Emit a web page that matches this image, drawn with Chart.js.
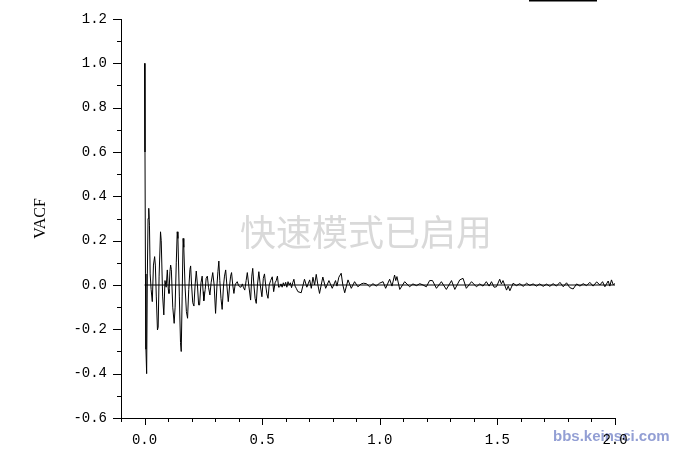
<!DOCTYPE html>
<html>
<head>
<meta charset="utf-8">
<script src="https://cdn.jsdelivr.net/npm/chart.js@4"></script>
<style>
html,body{margin:0;padding:0;background:#fff;}
#wrap{width:685px;height:451px;position:relative;}
canvas{display:block;}
</style>
</head>
<body>
<div id="wrap"><canvas id="c" width="685" height="451"></canvas></div>
<script>
// ---- data (time, VACF) ----
const timeValues = [
 0.000,0.002,0.004,0.006,0.009,0.012,0.015,0.018,0.021,0.024,0.028,0.033,0.038,0.043,0.046,0.050,
 0.055,0.058,0.062,0.068,0.071,0.077,0.082,0.087,0.092,0.097,0.101,0.104,0.108,0.111,0.114,0.120,
 0.126,0.130,0.135,0.139,0.142,0.148,0.153,0.156,0.160,0.164,0.167,0.172,0.178,0.183,0.188,0.193,
 0.196,0.200,0.205,0.210,0.215,0.220,0.225,0.230,0.234,0.240,0.245,0.249,0.252,0.258,0.262,0.267,
 0.272,0.278,0.283,0.290,0.296,0.302,0.308,0.312,0.316,0.320,0.325,0.330,0.336,0.340,0.345,0.350,
 0.356,0.362,0.366,0.370,0.375,0.380,0.385,0.390,0.394,0.399,0.404,0.410,0.416,0.420,0.426,0.432,
 0.437,0.443,0.451,0.456,0.460,0.465,0.470,0.475,0.480,0.486,0.492,0.499,0.505,0.510,0.515,0.520,
 0.525,0.530,0.536,0.543,0.549,0.555,0.560,0.565,0.570,0.575,0.580,0.585,0.590,0.595,0.600,0.605,
 0.610,0.615,0.620,0.625,0.630,0.635,0.640,0.645,
 0.652,0.666,0.680,0.690,0.702,0.709,0.716,0.723,0.730,0.737,0.744,0.751,0.758,0.770,0.784,0.798,
 0.812,0.818,0.826,0.836,0.843,0.851,0.865,0.879,0.893,0.907,0.921,0.931,0.943,0.957,0.971,0.985,
 0.999,1.014,1.025,1.042,1.052,1.063,1.068,1.073,1.085,1.106,1.127,1.141,1.156,1.170,1.184,1.198,
 1.212,1.224,1.241,1.262,1.283,1.305,1.319,1.340,1.354,1.368,1.390,1.411,
 1.425,1.439,1.453,1.465,1.475,1.486,1.496,1.510,1.517,1.524,1.539,1.546,1.553,1.567,1.581,1.595,
 1.610,1.624,1.638,1.652,1.666,1.680,1.695,1.709,1.723,1.737,1.751,1.766,1.780,1.794,1.808,1.822,
 1.837,1.851,1.865,1.879,1.893,1.907,1.922,1.936,1.947,1.957,1.971,1.978,1.985,1.993,2.000
];
const vacfValues = [
 1.00,0.60,0.05,-0.29,-0.40,0.05,0.30,0.346,0.27,0.05,-0.02,-0.075,0.09,0.128,0.09,-0.05,
 -0.203,-0.19,0.04,0.24,0.20,-0.05,-0.135,0.02,-0.01,0.068,-0.02,-0.038,0.06,0.09,0.07,-0.10,
 -0.173,-0.10,0.10,0.24,0.21,-0.05,-0.26,-0.30,-0.05,0.21,0.17,0.00,-0.12,-0.15,-0.02,0.07,
 0.086,0.00,-0.08,-0.095,0.00,0.063,0.00,-0.09,-0.09,0.01,0.04,-0.03,-0.071,-0.02,0.03,0.04,
 -0.01,-0.045,0.01,0.056,0.00,-0.128,0.00,0.06,0.108,0.02,-0.06,-0.11,0.00,0.04,0.068,0.00,
 -0.075,0.00,0.04,0.056,0.00,-0.038,0.00,0.01,0.015,0.00,-0.008,-0.01,0.005,-0.01,-0.023,0.02,
 0.056,0.00,-0.068,0.04,0.075,0.00,-0.06,-0.083,0.00,0.06,0.00,-0.053,0.03,0.05,0.00,-0.04,
 -0.06,0.00,0.02,0.037,-0.03,0.01,0.02,0.04,-0.01,-0.008,0.005,-0.01,0.01,-0.005,0.012,-0.01,
 0.015,0.00,0.01,-0.012,0.01,0.026,-0.005,-0.015,
 -0.03,-0.035,0.026,-0.01,0.023,-0.015,0.035,0.00,0.048,0.00,-0.038,0.00,0.036,-0.015,0.02,-0.015,
 0.02,-0.005,0.035,0.053,0.00,-0.035,0.023,-0.015,0.015,-0.008,0.005,0.008,0.006,-0.008,0.006,-0.005,
 0.008,0.015,-0.015,0.026,-0.005,0.045,0.02,0.038,-0.02,0.015,-0.008,0.005,-0.003,0.006,0.00,-0.008,
 0.02,0.02,-0.015,0.015,-0.02,0.02,-0.02,0.023,0.03,-0.015,0.015,-0.008,
 0.005,-0.005,0.015,-0.005,0.015,-0.01,-0.008,0.026,0.005,0.02,-0.023,-0.005,-0.026,0.008,-0.003,0.006,
 -0.006,0.008,-0.002,0.005,-0.005,0.005,-0.006,0.004,-0.006,0.006,-0.005,0.012,-0.008,0.01,-0.012,-0.018,
 0.005,-0.005,0.006,-0.003,0.012,-0.005,0.014,0.00,0.015,-0.008,0.018,-0.005,0.023,0.00,0.008
];
// reference zero line
const zeroLineX = [0.0, 2.0];
const zeroLineY = [0.0, 0.0];
// axis ticks
const xTickValues = [0.0, 0.5, 1.0, 1.5, 2.0];
const xTickLabels = ['0.0', '0.5', '1.0', '1.5', '2.0'];
const yTickValues = [-0.6, -0.4, -0.2, 0.0, 0.2, 0.4, 0.6, 0.8, 1.0, 1.2];
const yTickLabels = ['-0.6', '-0.4', '-0.2', '0.0', '0.2', '0.4', '0.6', '0.8', '1.0', '1.2'];
const yAxisTitle = 'VACF';
const watermarkText = '快速模式已启用';
const siteText = 'bbs.keinsci.com';

const mainPoints = timeValues.map((t, i) => ({x: t, y: vacfValues[i]}));
const zeroPoints = zeroLineX.map((t, i) => ({x: t, y: zeroLineY[i]}));

const decor = {
  id: 'decor',
  beforeDraw(chart) {
    const c = chart.ctx;
    c.save();
    c.fillStyle = '#fff';
    c.fillRect(0, 0, chart.width, chart.height);
    // site watermark (under the axis labels)
    c.fillStyle = 'rgba(128,142,204,0.85)';
    c.font = 'bold 15px "Liberation Sans"';
    c.textAlign = 'left';
    c.textBaseline = 'alphabetic';
    c.fillText(siteText, 553, 441);
    c.restore();
  },
  beforeDatasetsDraw(chart) {
    const c = chart.ctx;
    c.save();
    c.fillStyle = '#d9d9d9';
    c.font = '36px "Noto Sans CJK SC"';
    c.textAlign = 'center';
    c.textBaseline = 'middle';
    c.fillText(watermarkText, 366, 232);
    c.restore();
  },
  afterDraw(chart) {
    const c = chart.ctx;
    const xs = chart.scales.x, ys = chart.scales.y;
    c.save();
    c.strokeStyle = '#000';
    c.lineWidth = 1;
    c.beginPath();
    // x ticks (outward, down)
    for (let i = -1; i <= 20; i++) {
      const px = Math.round(xs.getPixelForValue(i / 10)) + 0.5;
      const len = (i % 5 === 0) ? 7 : 4;
      c.moveTo(px, ys.bottom);
      c.lineTo(px, ys.bottom + len);
    }
    // y ticks (outward, left)
    for (let i = -6; i <= 12; i++) {
      const py = Math.round(ys.getPixelForValue(i / 10)) + 0.5;
      const len = (i % 2 === 0) ? 8 : 4;
      c.moveTo(xs.left, py);
      c.lineTo(xs.left - len, py);
    }
    c.stroke();
    // short line at top right
    c.fillStyle = '#000';
    c.fillRect(529, 0, 68, 1.5);
    c.restore();
  }
};

new Chart(document.getElementById('c'), {
  type: 'line',
  data: {
    datasets: [
      {data: mainPoints, borderColor: '#000', borderWidth: 1, pointRadius: 0, tension: 0, fill: false},
      {data: zeroPoints, borderColor: '#000', borderWidth: 1, pointRadius: 0, tension: 0, fill: false}
    ]
  },
  options: {
    responsive: false,
    animation: false,
    events: [],
    layout: {padding: {top: 19, right: 70, left: 0, bottom: 0}},
    plugins: {legend: {display: false}, tooltip: {enabled: false}},
    scales: {
      x: {
        type: 'linear', min: -0.1, max: 2.0,
        afterBuildTicks: s => { s.ticks = xTickValues.map(v => ({value: v})); },
        afterFit: s => { s.height = 33; },
        grid: {display: false, drawTicks: true, tickLength: 7},
        border: {display: true, color: '#000', width: 1},
        ticks: {
          color: '#000', padding: 7, maxRotation: 0, autoSkip: false,
          font: {family: '"Liberation Mono"', size: 14},
          callback: (v) => { const i = xTickValues.findIndex(t => Math.abs(t - v) < 1e-9); return i >= 0 ? xTickLabels[i] : ''; }
        }
      },
      y: {
        type: 'linear', min: -0.6, max: 1.2,
        afterBuildTicks: s => { s.ticks = yTickValues.map(v => ({value: v})); },
        afterFit: s => { s.width = 121; },
        grid: {display: false, drawTicks: true, tickLength: 8},
        border: {display: true, color: '#000', width: 1},
        title: {display: true, text: yAxisTitle, color: '#000', font: {family: '"Liberation Serif"', size: 16}, padding: {top: 31, bottom: 0}},
        ticks: {
          color: '#000', padding: 6, autoSkip: false,
          font: {family: '"Liberation Mono"', size: 14},
          callback: (v) => { const i = yTickValues.findIndex(t => Math.abs(t - v) < 1e-9); return i >= 0 ? yTickLabels[i] : ''; }
        }
      }
    }
  },
  plugins: [decor]
});
</script>
</body>
</html>
